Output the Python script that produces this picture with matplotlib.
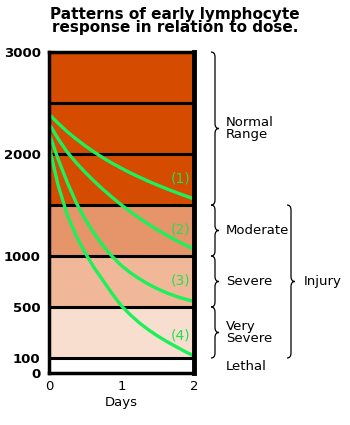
import numpy as np
import matplotlib.pyplot as plt
from matplotlib.path import Path
from matplotlib.patches import PathPatch
from matplotlib.transforms import IdentityTransform

# data (1/8 day steps)
days = [0, 0.125, 0.25, 0.375, 0.5, 0.625, 0.75, 0.875, 1,
        1.125, 1.25, 1.375, 1.5, 1.625, 1.75, 1.875, 2]
curve1 = [2390, 2302, 2220, 2147, 2080, 2018, 1960, 1908, 1860,
          1814, 1772, 1732, 1694, 1658, 1624, 1591, 1560]
curve2 = [2300, 2150, 2020, 1915, 1820, 1732, 1650, 1573, 1500,
          1433, 1370, 1310, 1255, 1203, 1155, 1110, 1065]
curve3 = [2206, 1951, 1726, 1523, 1358, 1218, 1097, 993, 905,
          835, 775, 722, 677, 638, 605, 578, 555]
curve4 = [2078, 1696, 1407, 1196, 1029, 882, 755, 627, 510,
          437, 374, 320, 272, 229, 190, 151, 116]
curve_names = ['(1)', '(2)', '(3)', '(4)']
label_y = [1760, 1260, 755, 280]

band_edges = [100, 500, 1000, 1500, 2000, 2500, 3000]
band_colors = ['#F7DECE', '#F0B898', '#E6946A', '#D54B00', '#D54B00', '#D54B00']
y_ticks = [0, 100, 500, 1000, 2000, 3000]
x_ticks = [0, 1, 2]

# y axis is not linear: each band gets same height (bottom band 0-100 smaller)
scale_vals = [0, 100, 500, 1000, 1500, 2000, 2500, 3000]
scale_pos = [0, 15, 66, 117, 168, 219, 270, 321]

def fwd(v):
    return np.interp(v, scale_vals, scale_pos)

def inv(p):
    return np.interp(p, scale_pos, scale_vals)

green = '#1CF05A'

fig = plt.figure(figsize=(3.5, 4.25), dpi=100)
ax = fig.add_axes([49 / 350, 1 - 373 / 425, 145 / 350, 321 / 425])
ax.set_yscale('function', functions=(fwd, inv))
ax.set_xlim(0, 2)
ax.set_ylim(0, 3000)

for lo, hi, c in zip(band_edges[:-1], band_edges[1:], band_colors):
    ax.axhspan(lo, hi, color=c, lw=0)
for e in band_edges:
    ax.axhline(e, color='black', lw=2.2)

for ys in [curve1, curve2, curve3, curve4]:
    ax.plot(days, ys, color=green, lw=2.4, solid_capstyle='butt', solid_joinstyle='round')
for name, ly in zip(curve_names, label_y):
    ax.text(1.82, ly, name, color='#22E050', fontsize=10, ha='center', va='center')

ax.set_yticks(y_ticks)
ax.set_yticklabels([str(t) for t in y_ticks], fontweight='bold', fontsize=9.5)
ax.yaxis.set_minor_locator(plt.NullLocator())
ax.set_xticks(x_ticks)
ax.set_xticklabels([str(t) for t in x_ticks], fontsize=9.5)
ax.tick_params(length=0)
ax.tick_params(axis='y', pad=6)
ax.tick_params(axis='x', pad=5)
ax.set_xlabel('Days', fontsize=9.5, labelpad=2)
for s in ax.spines.values():
    s.set_linewidth(2.5)
ax.spines['right'].set_linewidth(3.5)

fig.text(0.5, 1 - 21 / 425, 'Patterns of early lymphocyte\nresponse in relation to dose.',
         ha='center', va='center', fontweight='bold', fontsize=11, linespacing=0.9)


def brace(x, v0, v1, h=4, r=5):
    top = ax.transData.transform((0, v1))[1]
    bot = ax.transData.transform((0, v0))[1]
    mid = (top + bot) / 2
    verts = [(x - h, top), (x, top), (x, top - r),
             (x, mid + r),
             (x, mid), (x + h, mid),
             (x, mid), (x, mid - r),
             (x, bot + r),
             (x, bot), (x - h, bot)]
    codes = [Path.MOVETO, Path.CURVE3, Path.CURVE3, Path.LINETO,
             Path.CURVE3, Path.CURVE3, Path.CURVE3, Path.CURVE3,
             Path.LINETO, Path.CURVE3, Path.CURVE3]
    fig.add_artist(PathPatch(Path(verts, codes), fill=False, lw=0.9,
                             ec='black', transform=IdentityTransform()))
    return mid


def label(x, ymid, s):
    fig.text(x / 350, ymid / 425, s, ha='left', va='center', fontsize=9.5, linespacing=0.95)


m = brace(215, 1500, 3000)
label(226, m, 'Normal\nRange')
m = brace(215, 1000, 1500)
label(226, m, 'Moderate')
m = brace(215, 500, 1000)
label(226, m, 'Severe')
m = brace(215, 100, 500)
label(226, m, 'Very\nSevere')
m = brace(291, 100, 1500)
label(304, m, 'Injury')
label(226, 425 - 366, 'Lethal')

fig.savefig('out.png', dpi=100)
